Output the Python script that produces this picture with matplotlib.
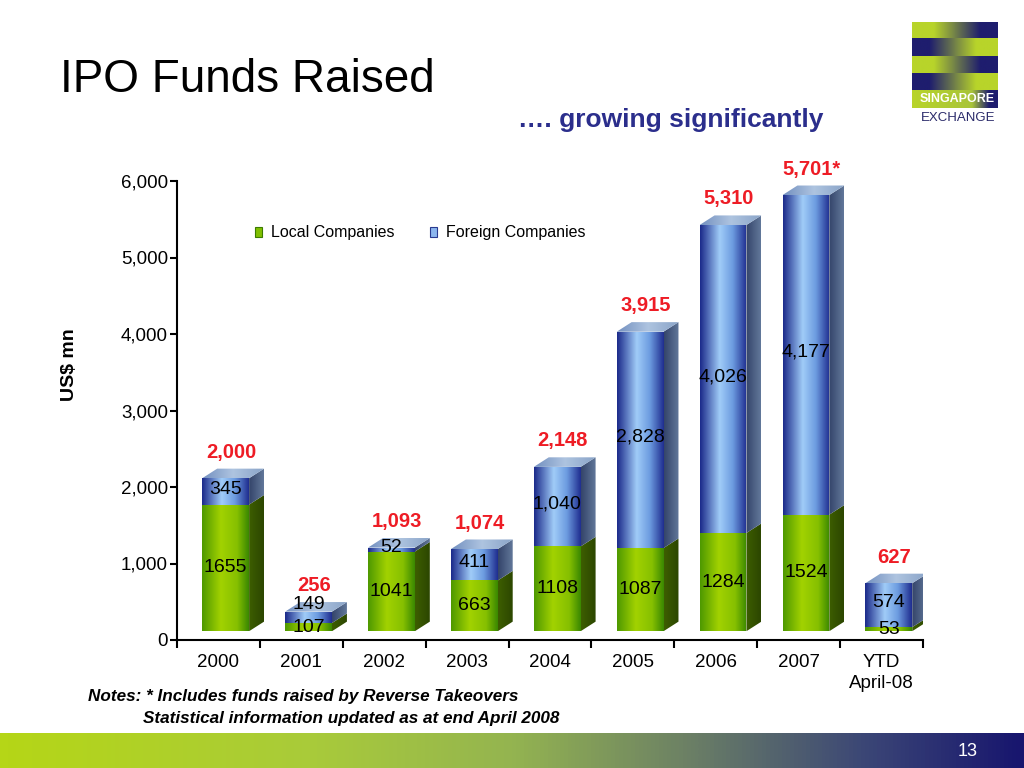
import numpy as np
import matplotlib
matplotlib.use('Agg')
import matplotlib.pyplot as plt
from matplotlib.colors import LinearSegmentedColormap
from matplotlib.patches import Polygon, Rectangle

plt.rcParams['font.family'] = ['Liberation Sans', 'DejaVu Sans']

########################################################################
# data (US$ mn)
years = ['2000', '2001', '2002', '2003', '2004', '2005', '2006', '2007', 'YTD\nApril-08']
local = [1655, 107, 1041, 663, 1108, 1087, 1284, 1524, 53]
foreign = [345, 149, 52, 411, 1040, 2828, 4026, 4177, 574]
local_labels = ['1655', '107', '1041', '663', '1108', '1087', '1284', '1524', '53']
foreign_labels = ['345', '149', '52', '411', '1,040', '2,828', '4,026', '4,177', '574']
total_labels = ['2,000', '256', '1,093', '1,074', '2,148', '3,915', '5,310', '5,701*', '627']
yticks = [0, 1000, 2000, 3000, 4000, 5000, 6000]

########################################################################
# colours
LIME = '#b8d42a'
NAVY = '#1e1d6e'
RED = '#ee1c25'

local_front = LinearSegmentedColormap.from_list('lf', [(0, '#4e9800'), (0.4, '#a2d200'), (0.75, '#86c000'), (1, '#3a8800')])
local_side = LinearSegmentedColormap.from_list('ls', ['#3d5e00', '#2c4600'])
foreign_front = LinearSegmentedColormap.from_list('ff', [(0, '#1b2a8a'), (0.42, '#a0ccf8'), (0.7, '#6d9ce0'), (1, '#1f2e90')])
foreign_side = LinearSegmentedColormap.from_list('fs', ['#34446a', '#62789a'])
foreign_top = LinearSegmentedColormap.from_list('ft', ['#7390c0', '#aec4e0', '#8aa4c8'])


def shade(ax, verts, cmap, vertical=False, z=2):
    # fill a polygon with a gradient image clipped to it
    poly = Polygon(verts, closed=True, fc='none', ec='none', zorder=z)
    ax.add_patch(poly)
    xs, ys = zip(*verts)
    g = np.linspace(0, 1, 128)[None, :]
    if vertical:
        g = g.T
    im = ax.imshow(g, cmap=cmap, extent=(min(xs), max(xs), min(ys), max(ys)),
                   origin='lower', aspect='auto', interpolation='bilinear', zorder=z)
    im.set_clip_path(poly)


fig = plt.figure(figsize=(10.24, 7.68), dpi=100)
fig.patch.set_facecolor('white')


def px(x, y):
    return x / 1024, 1 - y / 768


########################################################################
# main chart
ax = fig.add_axes([177 / 1024, 128 / 768, 746 / 1024, 459 / 768])

base = 115      # bars float a little above the floor
dx = 0.18       # 3d depth (x, category units)
dy = 125        # 3d depth (y, data units)
left_off, right_off = -0.195, 0.37
min_gap = 290   # keep the two value labels apart on short bars

for i in range(len(years)):
    x0, x1 = i + left_off, i + right_off
    y0 = base
    y1 = base + local[i]
    y2 = y1 + foreign[i]
    # local segment
    shade(ax, [(x0, y0), (x1, y0), (x1, y1), (x0, y1)], local_front)
    shade(ax, [(x1, y0), (x1 + dx, y0 + dy), (x1 + dx, y1 + dy), (x1, y1)], local_side)
    # foreign segment
    shade(ax, [(x0, y1), (x1, y1), (x1, y2), (x0, y2)], foreign_front)
    shade(ax, [(x1, y1), (x1 + dx, y1 + dy), (x1 + dx, y2 + dy), (x1, y2)], foreign_side)
    shade(ax, [(x0, y2), (x1, y2), (x1 + dx, y2 + dy), (x0 + dx, y2 + dy)], foreign_top)

    cx = (x0 + x1) / 2
    ly = (y0 + y1) / 2
    fy = max((y1 + y2) / 2 + dy / 4, ly + min_gap)
    ax.text(cx, ly, local_labels[i], ha='center', va='center',
            fontsize=14, color='black', zorder=5)
    ax.text(cx, fy, foreign_labels[i], ha='center', va='center',
            fontsize=14, color='black', zorder=5)
    ax.text(i + 0.15, y2 + 340, total_labels[i], ha='center', va='center',
            fontsize=14.5, fontweight='bold', color=RED, zorder=5, clip_on=False)

ax.set_xlim(-0.5, len(years) - 0.5)
ax.set_ylim(0, 6000)
ax.set_aspect('auto')
for s in ['top', 'right']:
    ax.spines[s].set_visible(False)
for s in ['left', 'bottom']:
    ax.spines[s].set_linewidth(1.5)
    ax.spines[s].set_zorder(6)

ax.set_yticks(yticks)
ax.set_yticklabels([f'{v:,}' for v in yticks])
ax.tick_params(axis='y', direction='out', length=5, width=1.5, pad=1.5, labelsize=13.5)

ax.set_xticks(np.arange(-0.5, len(years), 1.0))
ax.set_xticklabels([])
ax.tick_params(axis='x', which='major', direction='out', length=6, width=1.5)
ax.set_xticks(np.arange(len(years)), minor=True)
ax.set_xticklabels(years, minor=True, fontsize=13.5, linespacing=1.3)
ax.tick_params(axis='x', which='minor', length=0, pad=10)

fig.text(*px(70, 365), 'US$ mn', rotation=90, ha='center', va='center',
         fontsize=14, fontweight='bold')

# legend
fig.patches.append(Rectangle(px(255, 237), 7 / 1024, 10 / 768, transform=fig.transFigure,
                             fc='#80bf00', ec='#3c7c00', lw=0.8))
fig.text(*px(271, 232), 'Local Companies', ha='left', va='center', fontsize=11.5)
fig.patches.append(Rectangle(px(430, 237), 7 / 1024, 10 / 768, transform=fig.transFigure,
                             fc='#8cb6ee', ec='#2a3a90', lw=0.8))
fig.text(*px(446, 232), 'Foreign Companies', ha='left', va='center', fontsize=11.5)

########################################################################
# titles and notes
fig.text(*px(60, 92), 'IPO Funds Raised', ha='left', va='baseline', fontsize=33)
fig.text(*px(518, 127), '…. growing significantly', ha='left', va='baseline',
         fontsize=19, fontweight='bold', color='#2b2e8c')
fig.text(*px(88, 697), 'Notes: * Includes funds raised by Reverse Takeovers', ha='left',
         va='center', fontsize=12.3, fontweight='bold', fontstyle='italic')
fig.text(*px(143, 718), 'Statistical information updated as at end April 2008', ha='left',
         va='center', fontsize=12.3, fontweight='bold', fontstyle='italic')

########################################################################
# logo
lax = fig.add_axes([912 / 1024, 1 - 108 / 768, 86 / 1024, 86 / 768])
to_navy = LinearSegmentedColormap.from_list('tn', [(0, LIME), (0.25, LIME), (0.8, NAVY), (1, NAVY)])
to_lime = LinearSegmentedColormap.from_list('tl', [(0, NAVY), (0.2, NAVY), (0.75, LIME), (1, LIME)])
last_row = LinearSegmentedColormap.from_list('lr', [(0, LIME), (0.7, '#a8c43a'), (0.9, NAVY), (1, NAVY)])
rows = [to_navy, to_lime, to_navy, to_lime, last_row]
grad = np.linspace(0, 1, 128)[None, :]
for k, cm in enumerate(rows):
    lax.imshow(grad, cmap=cm, extent=(0, 1, 4 - k, 5 - k), aspect='auto', interpolation='bilinear')
lax.set_xlim(0, 1)
lax.set_ylim(0, 5)
lax.axis('off')
lax.text(0.53, 0.5, 'SINGAPORE', ha='center', va='center', color='white',
         fontsize=9, fontweight='bold')
fig.text(*px(958, 118), 'EXCHANGE', ha='center', va='center', fontsize=9.5, color='#2a2a6a')

########################################################################
# bottom banner
bax = fig.add_axes([0, 0, 1, 35 / 768])
banner = LinearSegmentedColormap.from_list('bn', [(0, '#b5d617'), (0.3, '#a9cb3a'), (0.5, '#94b450'),
                                                  (0.68, '#6a7e66'), (0.85, '#3b4676'), (1, '#18166e')])
bax.imshow(grad, cmap=banner, extent=(0, 1, 0, 1), aspect='auto', interpolation='bilinear')
bax.set_xlim(0, 1)
bax.set_ylim(0, 1)
bax.axis('off')
fig.text(*px(968, 751), '13', ha='center', va='center', color='white', fontsize=13)

fig.savefig('out.png', dpi=100, facecolor='white')
